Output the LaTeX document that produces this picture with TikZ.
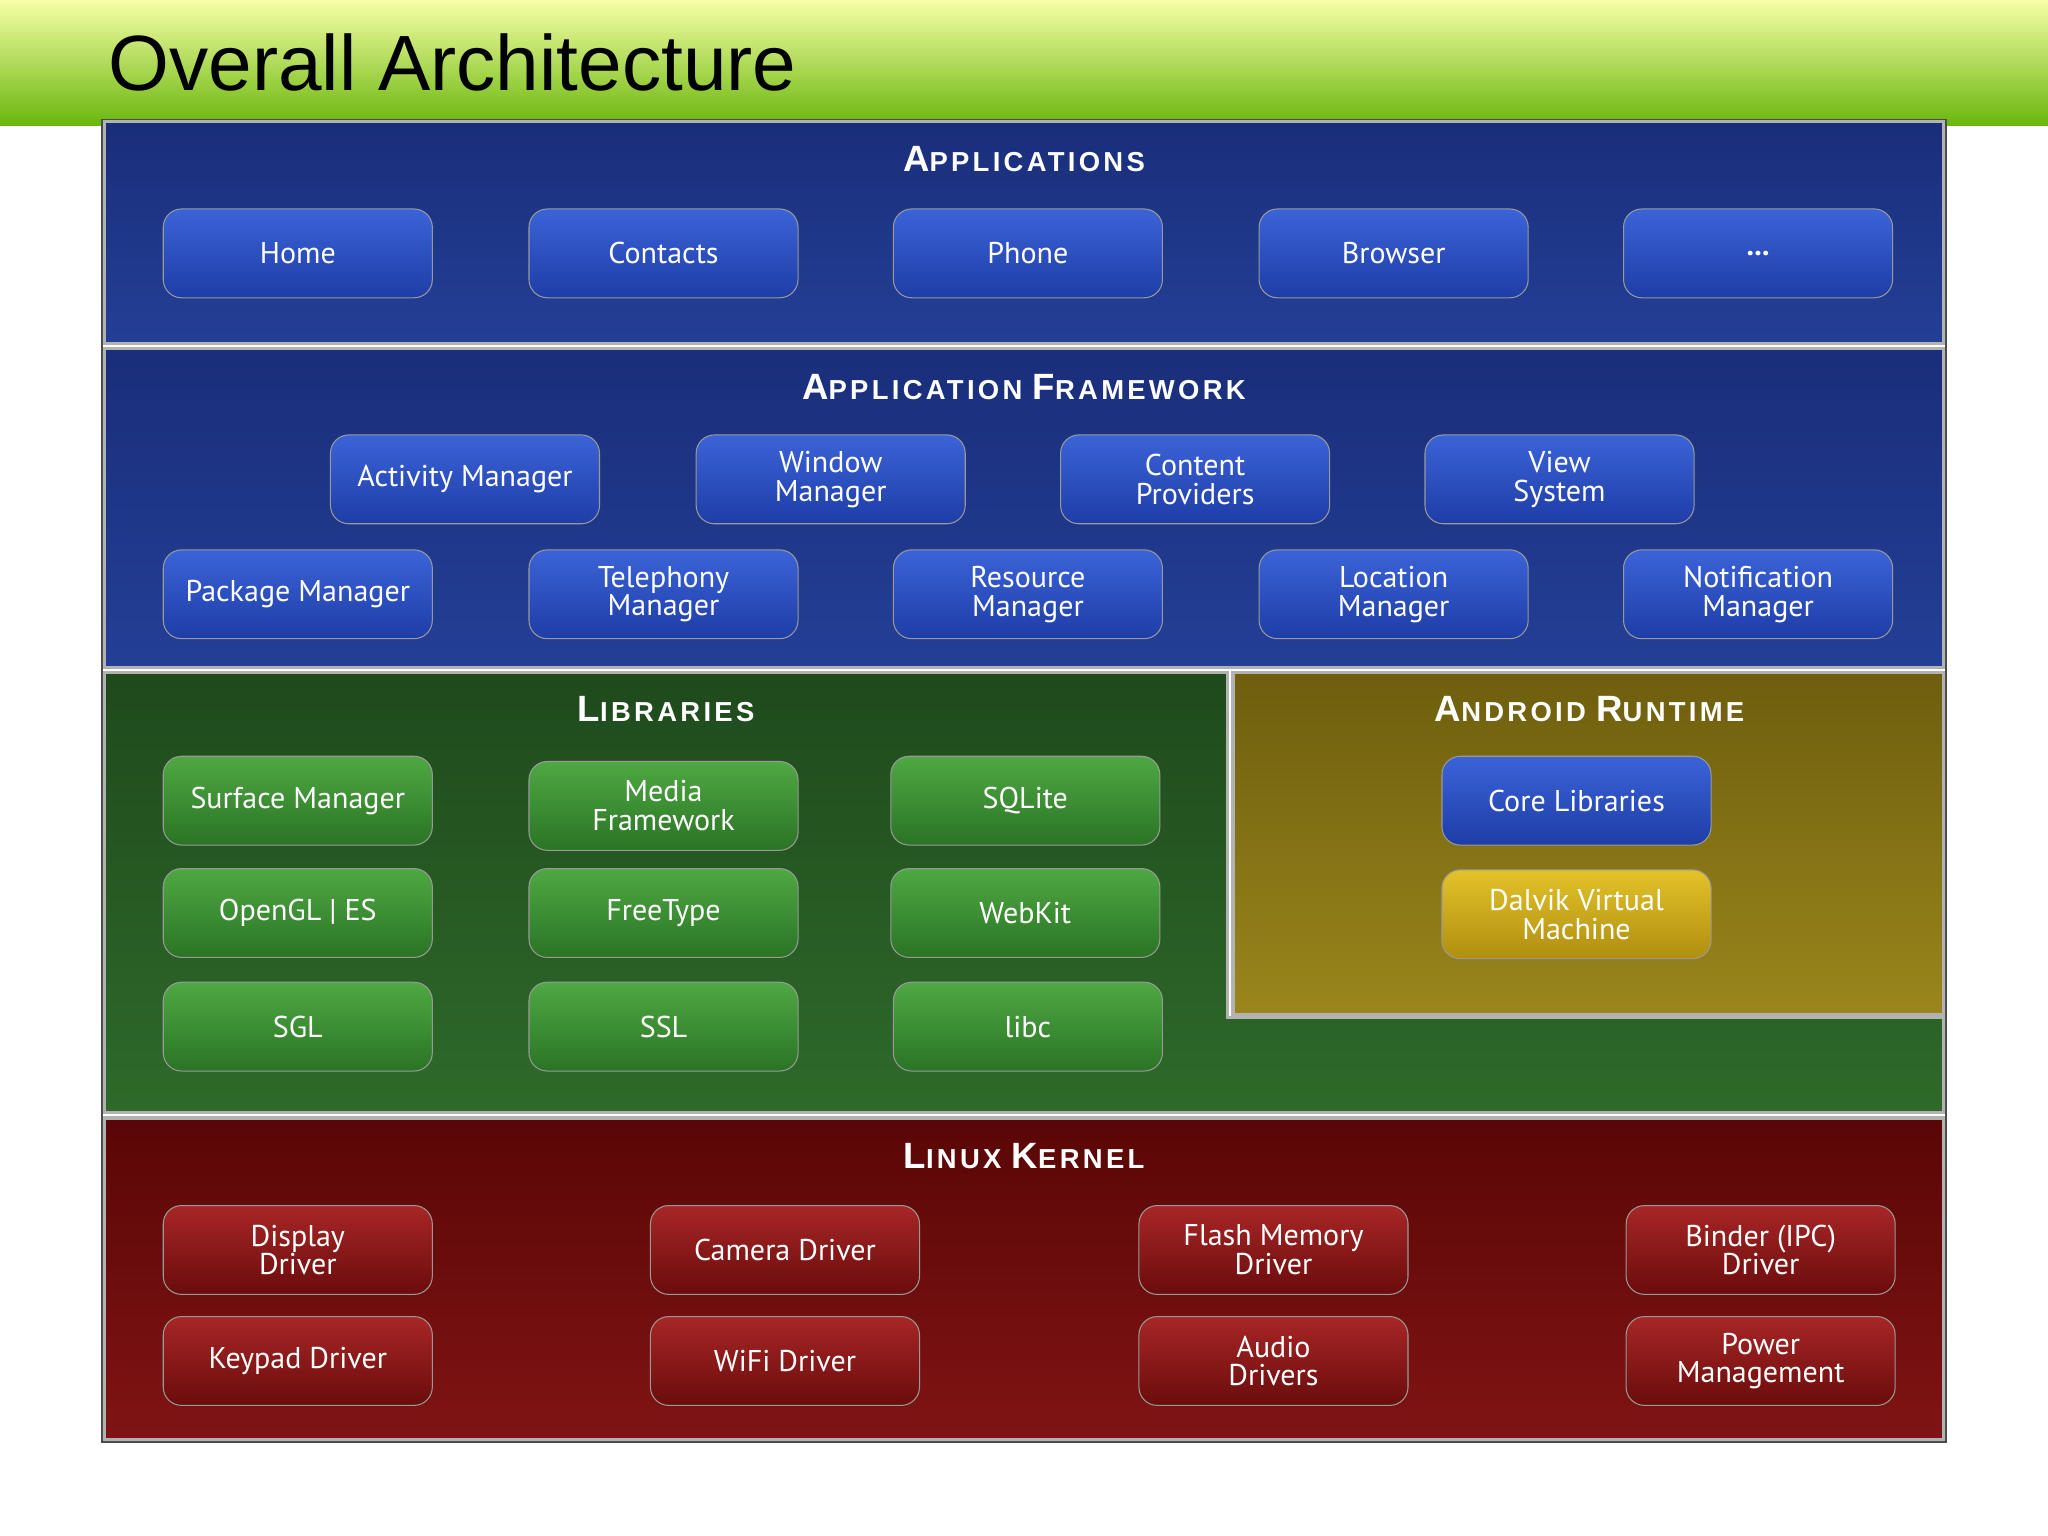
\documentclass[tikz,border=0pt]{standalone}
\usepackage{fontspec}
\setmainfont{Liberation Sans}
\newfontfamily\btnfont{PT Sans}
\newfontfamily\hdrfont[LetterSpace=12]{Liberation Sans}
\definecolor{appA}{HTML}{1A2E7A}
\definecolor{appB}{HTML}{233F96}
\definecolor{libA}{HTML}{1F4A1C}
\definecolor{libB}{HTML}{2E6A2A}
\definecolor{rtA}{HTML}{6E5E0E}
\definecolor{rtB}{HTML}{9A861C}
\definecolor{kerA}{HTML}{5A0606}
\definecolor{kerB}{HTML}{801414}
\definecolor{bbA}{HTML}{3B63D8}
\definecolor{bbB}{HTML}{1E3DA6}
\definecolor{gbA}{HTML}{4FA843}
\definecolor{gbB}{HTML}{2A7424}
\definecolor{rbA}{HTML}{A82626}
\definecolor{rbB}{HTML}{6A0C0C}
\definecolor{ybA}{HTML}{E3C22A}
\definecolor{ybB}{HTML}{B08E10}
\begin{document}
\begin{tikzpicture}[x=0.5pt,y=-0.5pt,
  panel/.style={draw=gray!60, line width=1.2pt},
  btn/.style={rounded corners=7pt, minimum width=103pt, minimum height=34pt, inner sep=1pt,
    text=white, align=center, font=\btnfont\fontsize{11.5}{11}\selectfont, draw=black!40, line width=0.4pt},
  bluebtn/.style={btn, top color=bbA, bottom color=bbB},
  greenbtn/.style={btn, top color=gbA, bottom color=gbB},
  redbtn/.style={btn, top color=rbA, bottom color=rbB},
  yellowbtn/.style={btn, top color=ybA, bottom color=ybB},
  hdr/.style={text=white, font=\hdrfont\bfseries}
]
\newcommand{\hd}[2]{{\fontsize{14}{14}\selectfont #1}{\fontsize{10.5}{12}\selectfont #2}}
\useasboundingbox (0,0) rectangle (1568,1176);
\fill[white] (0,0) rectangle (1568,1176);
\fill[top color=green!10!yellow!35, bottom color=green!45!yellow!70!black!95] (0,0) rectangle (1568,96);
\node[anchor=west, font=\fontsize{30}{30}\selectfont] (title) at (76,48) {Overall Architecture};
\draw[black!70, line width=0.6pt] (78,92) rectangle (1490,1104);
% panels
\fill[panel, top color=appA, bottom color=appB] (80,93) rectangle (1488,263);
\fill[panel, top color=appA, bottom color=appB] (80,267) rectangle (1488,511);
\fill[panel, top color=libA, bottom color=libB] (80,515) -- (940,515) -- (940,779) -- (1488,779) -- (1488,852) -- (80,852) -- cycle;
\fill[panel, top color=rtA, bottom color=rtB] (944,515) rectangle (1488,777);
\fill[panel, top color=kerA, bottom color=kerB] (80,856) rectangle (1488,1102);
% headers
\node[hdr] (h1) at (784,122) {\hd{A}{PPLICATIONS}};
\node[hdr] (h2) at (784,296) {\hd{A}{PPLICATION} \hd{F}{RAMEWORK}};
\node[hdr] (h3) at (510,543) {\hd{L}{IBRARIES}};
\node[hdr] (h4) at (1217,543) {\hd{A}{NDROID} \hd{R}{UNTIME}};
\node[hdr] (h5) at (784,885) {\hd{L}{INUX} \hd{K}{ERNEL}};
% applications
\node[bluebtn] (a1) at (228,194) {Home};
\node[bluebtn] (a2) at (508,194) {Contacts};
\node[bluebtn] (a3) at (787,194) {Phone};
\node[bluebtn] (a4) at (1067,194) {Browser};
\node[bluebtn] (a5) at (1346,194) {\textbf{...}};
% framework
\node[bluebtn] (f1) at (356,367) {Activity Manager};
\node[bluebtn] (f2) at (636,367) {Window\\Manager};
\node[bluebtn] (f3) at (915,367) {Content\\Providers};
\node[bluebtn] (f4) at (1194,367) {View\\System};
\node[bluebtn] (f5) at (228,455) {Package Manager};
\node[bluebtn] (f6) at (508,455) {Telephony\\Manager};
\node[bluebtn] (f7) at (787,455) {Resource\\Manager};
\node[bluebtn] (f8) at (1067,455) {Location\\Manager};
\node[bluebtn] (f9) at (1346,455) {Notification\\Manager};
% libraries
\node[greenbtn] (l1) at (228,613) {Surface Manager};
\node[greenbtn] (l2) at (508,617) {Media\\Framework};
\node[greenbtn] (l3) at (785,613) {SQLite};
\node[greenbtn] (l4) at (228,699) {OpenGL | ES};
\node[greenbtn] (l5) at (508,699) {FreeType};
\node[greenbtn] (l6) at (785,699) {WebKit};
\node[greenbtn] (l7) at (228,786) {SGL};
\node[greenbtn] (l8) at (508,786) {SSL};
\node[greenbtn] (l9) at (787,786) {libc};
% runtime
\node[bluebtn] (r1) at (1207,613) {Core Libraries};
\node[yellowbtn] (r2) at (1207,700) {Dalvik Virtual\\Machine};
% kernel
\node[redbtn] (k1) at (228,957) {Display\\Driver};
\node[redbtn] (k2) at (601,957) {Camera Driver};
\node[redbtn] (k3) at (975,957) {Flash Memory\\Driver};
\node[redbtn] (k4) at (1348,957) {Binder (IPC)\\Driver};
\node[redbtn] (k5) at (228,1042) {Keypad Driver};
\node[redbtn] (k6) at (601,1042) {WiFi Driver};
\node[redbtn] (k7) at (975,1042) {Audio\\Drivers};
\node[redbtn] (k8) at (1348,1042) {Power\\Management};
\end{tikzpicture}
\end{document}
